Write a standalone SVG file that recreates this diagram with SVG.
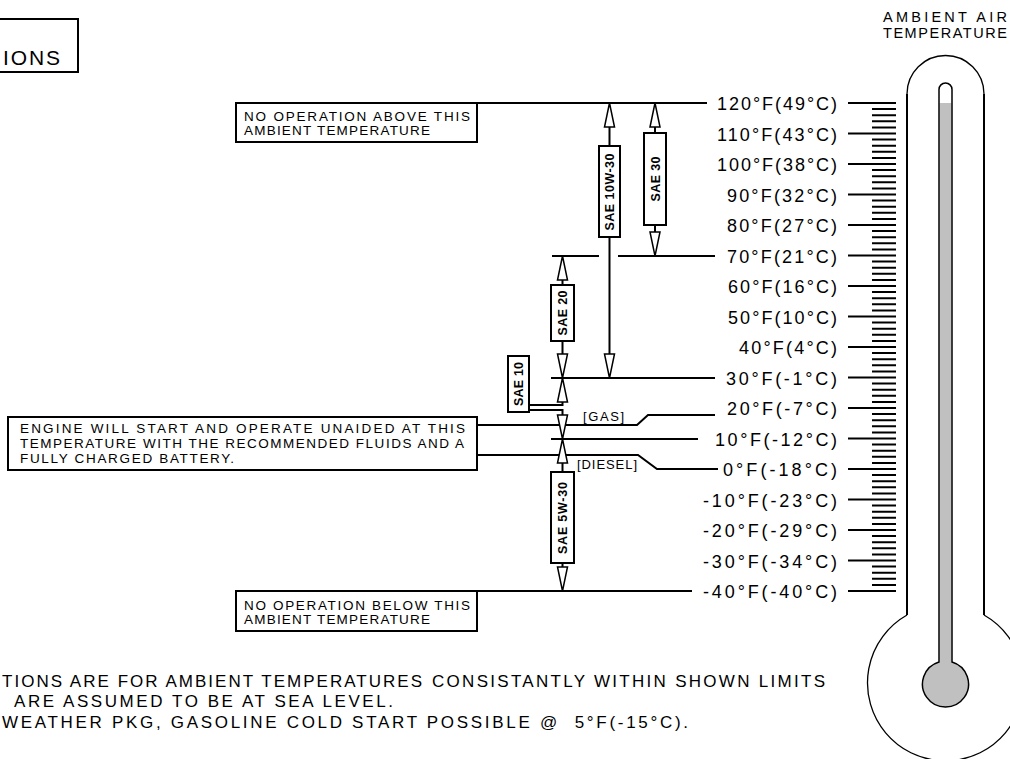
<svg xmlns="http://www.w3.org/2000/svg" width="1010" height="759" viewBox="0 0 1010 759">
<style>
.ln{stroke:#000;stroke-width:2;fill:none}
.bx{fill:#fff;stroke:#000;stroke-width:2}
.ar{fill:#fff;stroke:#000;stroke-width:1.5;stroke-linejoin:miter}
.t{font-family:"Liberation Sans",Arial,sans-serif;fill:#000}
.lab{font-size:18px}
.bt{font-size:13.5px}
.ft{font-size:17px}
.sae{font-size:12.5px;font-weight:bold}
.th{stroke:#000;fill:none}
</style>
<rect width="1010" height="759" fill="#fff"/>

<g id="title-box">
<rect class="bx" x="-5" y="19" width="83" height="53"/>
<text class="t" x="3" y="65" font-size="21" textLength="57" lengthAdjust="spacing">IONS</text>
</g>

<g id="note-above">
<rect class="bx" x="236" y="103" width="241" height="39"/>
<text class="t bt" x="244" y="121" textLength="226" lengthAdjust="spacing">NO OPERATION ABOVE THIS</text>
<text class="t bt" x="244" y="135" textLength="186" lengthAdjust="spacing">AMBIENT TEMPERATURE</text>
</g>

<g id="note-below">
<rect class="bx" x="236" y="591" width="241" height="40"/>
<text class="t bt" x="244" y="610" textLength="226" lengthAdjust="spacing">NO OPERATION BELOW THIS</text>
<text class="t bt" x="244" y="624" textLength="186" lengthAdjust="spacing">AMBIENT TEMPERATURE</text>
</g>

<g id="note-engine">
<rect class="bx" x="8" y="417" width="469" height="53"/>
<text class="t bt" x="20" y="433" textLength="445" lengthAdjust="spacing">ENGINE WILL START AND OPERATE UNAIDED AT THIS</text>
<text class="t bt" x="20" y="448" textLength="444" lengthAdjust="spacing">TEMPERATURE WITH THE RECOMMENDED FLUIDS AND A</text>
<text class="t bt" x="20" y="463" textLength="214" lengthAdjust="spacing">FULLY CHARGED BATTERY.</text>
</g>

<g id="connectors">
<path class="ln" d="M477,103 H707"/>
<path class="ln" d="M552,256 H599 M618,256 H715"/>
<path class="ln" d="M551,378 H715"/>
<path class="ln" d="M477,425 H637 L648,415 H715"/>
<path class="ln" d="M551,439 H698"/>
<path class="ln" d="M477,455 H638 L657,469 H718"/>
<path class="ln" d="M477,591 H692"/>
<path class="ln" d="M609.5,127 V146 M609.5,237 V354"/>
<path class="ln" d="M655,127 V133 M655,225 V232"/>
<path class="ln" d="M562.5,280 V285 M562.5,341 V354"/>
<path class="ln" d="M562.5,402 V405 H529 M529,410 H562.5 V415"/>
<path class="ln" d="M562.5,463 V472 M562.5,563 V567"/>
<path class="ar" d="M609.5,103 L604.5,127 L614.5,127 Z"/>
<path class="ar" d="M609.5,378 L604.5,354 L614.5,354 Z"/>
<path class="ar" d="M655,103 L650,127 L660,127 Z"/>
<path class="ar" d="M655,256 L650,232 L660,232 Z"/>
<path class="ar" d="M562.5,256 L557.5,280 L567.5,280 Z"/>
<path class="ar" d="M562.5,378 L557.5,354 L567.5,354 Z"/>
<path class="ar" d="M562.5,378 L557.5,402 L567.5,402 Z"/>
<path class="ar" d="M562.5,439 L557.5,415 L567.5,415 Z"/>
<path class="ar" d="M562.5,439 L557.5,463 L567.5,463 Z"/>
<path class="ar" d="M562.5,591 L557.5,567 L567.5,567 Z"/>
<text class="t" x="583" y="421" font-size="13" textLength="41" lengthAdjust="spacing">[GAS]</text>
<text class="t" x="577" y="469" font-size="13" textLength="60" lengthAdjust="spacing">[DIESEL]</text>
</g>

<g id="sae-10w30">
<rect class="bx" x="599" y="146" width="21" height="91"/>
<text class="t sae" transform="translate(614,192) rotate(-90)" text-anchor="middle" textLength="77" lengthAdjust="spacing">SAE 10W-30</text>
</g>
<g id="sae-30">
<rect class="bx" x="644" y="133" width="22" height="92"/>
<text class="t sae" transform="translate(659.5,179) rotate(-90)" text-anchor="middle" textLength="45" lengthAdjust="spacing">SAE 30</text>
</g>
<g id="sae-20">
<rect class="bx" x="551" y="285" width="23" height="56"/>
<text class="t sae" transform="translate(567,313) rotate(-90)" text-anchor="middle" textLength="45" lengthAdjust="spacing">SAE 20</text>
</g>
<g id="sae-10">
<rect class="bx" x="508" y="356" width="21" height="56"/>
<text class="t sae" transform="translate(523,384) rotate(-90)" text-anchor="middle" textLength="44" lengthAdjust="spacing">SAE 10</text>
</g>
<g id="sae-5w30">
<rect class="bx" x="551" y="472" width="23" height="91"/>
<text class="t sae" transform="translate(567,518) rotate(-90)" text-anchor="middle" textLength="72" lengthAdjust="spacing">SAE 5W-30</text>
</g>

<g id="scale-labels" class="t lab">
<text x="717" y="110" textLength="120" lengthAdjust="spacing">120°F(49°C)</text>
<text x="717" y="140.5" textLength="120" lengthAdjust="spacing">110°F(43°C)</text>
<text x="717" y="171" textLength="120" lengthAdjust="spacing">100°F(38°C)</text>
<text x="727" y="201.5" textLength="110" lengthAdjust="spacing">90°F(32°C)</text>
<text x="727" y="232" textLength="110" lengthAdjust="spacing">80°F(27°C)</text>
<text x="727" y="262.5" textLength="110" lengthAdjust="spacing">70°F(21°C)</text>
<text x="728" y="293" textLength="109" lengthAdjust="spacing">60°F(16°C)</text>
<text x="728" y="323.5" textLength="109" lengthAdjust="spacing">50°F(10°C)</text>
<text x="739" y="354" textLength="98" lengthAdjust="spacing">40°F(4°C)</text>
<text x="726" y="384.5" textLength="111" lengthAdjust="spacing">30°F(-1°C)</text>
<text x="727" y="415" textLength="110" lengthAdjust="spacing">20°F(-7°C)</text>
<text x="715" y="445.5" textLength="122" lengthAdjust="spacing">10°F(-12°C)</text>
<text x="723" y="476" textLength="114" lengthAdjust="spacing">0°F(-18°C)</text>
<text x="703" y="506.5" textLength="134" lengthAdjust="spacing">-10°F(-23°C)</text>
<text x="703" y="537" textLength="134" lengthAdjust="spacing">-20°F(-29°C)</text>
<text x="703" y="567.5" textLength="134" lengthAdjust="spacing">-30°F(-34°C)</text>
<text x="703" y="598" textLength="134" lengthAdjust="spacing">-40°F(-40°C)</text>
</g>

<g id="scale-ticks">
<path class="ln" d="M848,103H896M848,133.5H896M848,164H896M848,194.5H896M848,225H896M848,255.5H896M848,286H896M848,316.5H896M848,347H896M848,377.5H896M848,408H896M848,438.5H896M848,469H896M848,499.5H896M848,530H896M848,560.5H896M848,591H896"/>
<path class="ln" d="M872,109.1H896M872,115.2H896M872,121.3H896M872,127.4H896M872,139.6H896M872,145.7H896M872,151.8H896M872,157.9H896M872,170.1H896M872,176.2H896M872,182.3H896M872,188.4H896M872,200.6H896M872,206.7H896M872,212.8H896M872,218.9H896M872,231.1H896M872,237.2H896M872,243.3H896M872,249.4H896M872,261.6H896M872,267.7H896M872,273.8H896M872,279.9H896M872,292.1H896M872,298.2H896M872,304.3H896M872,310.4H896M872,322.6H896M872,328.7H896M872,334.8H896M872,340.9H896M872,353.1H896M872,359.2H896M872,365.3H896M872,371.4H896M872,383.6H896M872,389.7H896M872,395.8H896M872,401.9H896M872,414.1H896M872,420.2H896M872,426.3H896M872,432.4H896M872,444.6H896M872,450.7H896M872,456.8H896M872,462.9H896M872,475.1H896M872,481.2H896M872,487.3H896M872,493.4H896M872,505.6H896M872,511.7H896M872,517.8H896M872,523.9H896M872,536.1H896M872,542.2H896M872,548.3H896M872,554.4H896M872,566.6H896M872,572.7H896M872,578.8H896M872,584.9H896"/>
</g>

<g id="thermometer">
<text class="t" x="883" y="22" font-size="14.5" textLength="124" lengthAdjust="spacing">AMBIENT AIR</text>
<text class="t" x="883" y="38" font-size="14.5" textLength="124" lengthAdjust="spacing">TEMPERATURE</text>
<path class="th" stroke-width="2" d="M907,615 V94 M984,615 V94"/>
<path class="th" stroke-width="1.3" d="M907,94 A38.5,38.5 0 0 1 984,94 M984,615 A78,78 0 1 1 907,615"/>
<rect x="939.5" y="103" width="12" height="565" fill="#c0c0c0"/>
<circle cx="945.5" cy="684" r="23" fill="#c0c0c0"/>
<path class="th" stroke-width="1.5" d="M939,662 V89.5 A6.5,6.5 0 0 1 952,89.5 V662 A23,23 0 1 1 939,662 Z"/>
</g>

<g id="footnotes" class="t ft">
<text x="2" y="687" textLength="420" lengthAdjust="spacing">TIONS ARE FOR AMBIENT TEMPERATURES</text>
<text x="432" y="687" textLength="393" lengthAdjust="spacing">CONSISTANTLY WITHIN SHOWN LIMITS</text>
<text x="14" y="707" textLength="379" lengthAdjust="spacing">ARE ASSUMED TO BE AT SEA LEVEL.</text>
<text x="2" y="728" textLength="686" lengthAdjust="spacing" xml:space="preserve">WEATHER PKG, GASOLINE COLD START POSSIBLE @  5°F(-15°C).</text>
</g>
</svg>
